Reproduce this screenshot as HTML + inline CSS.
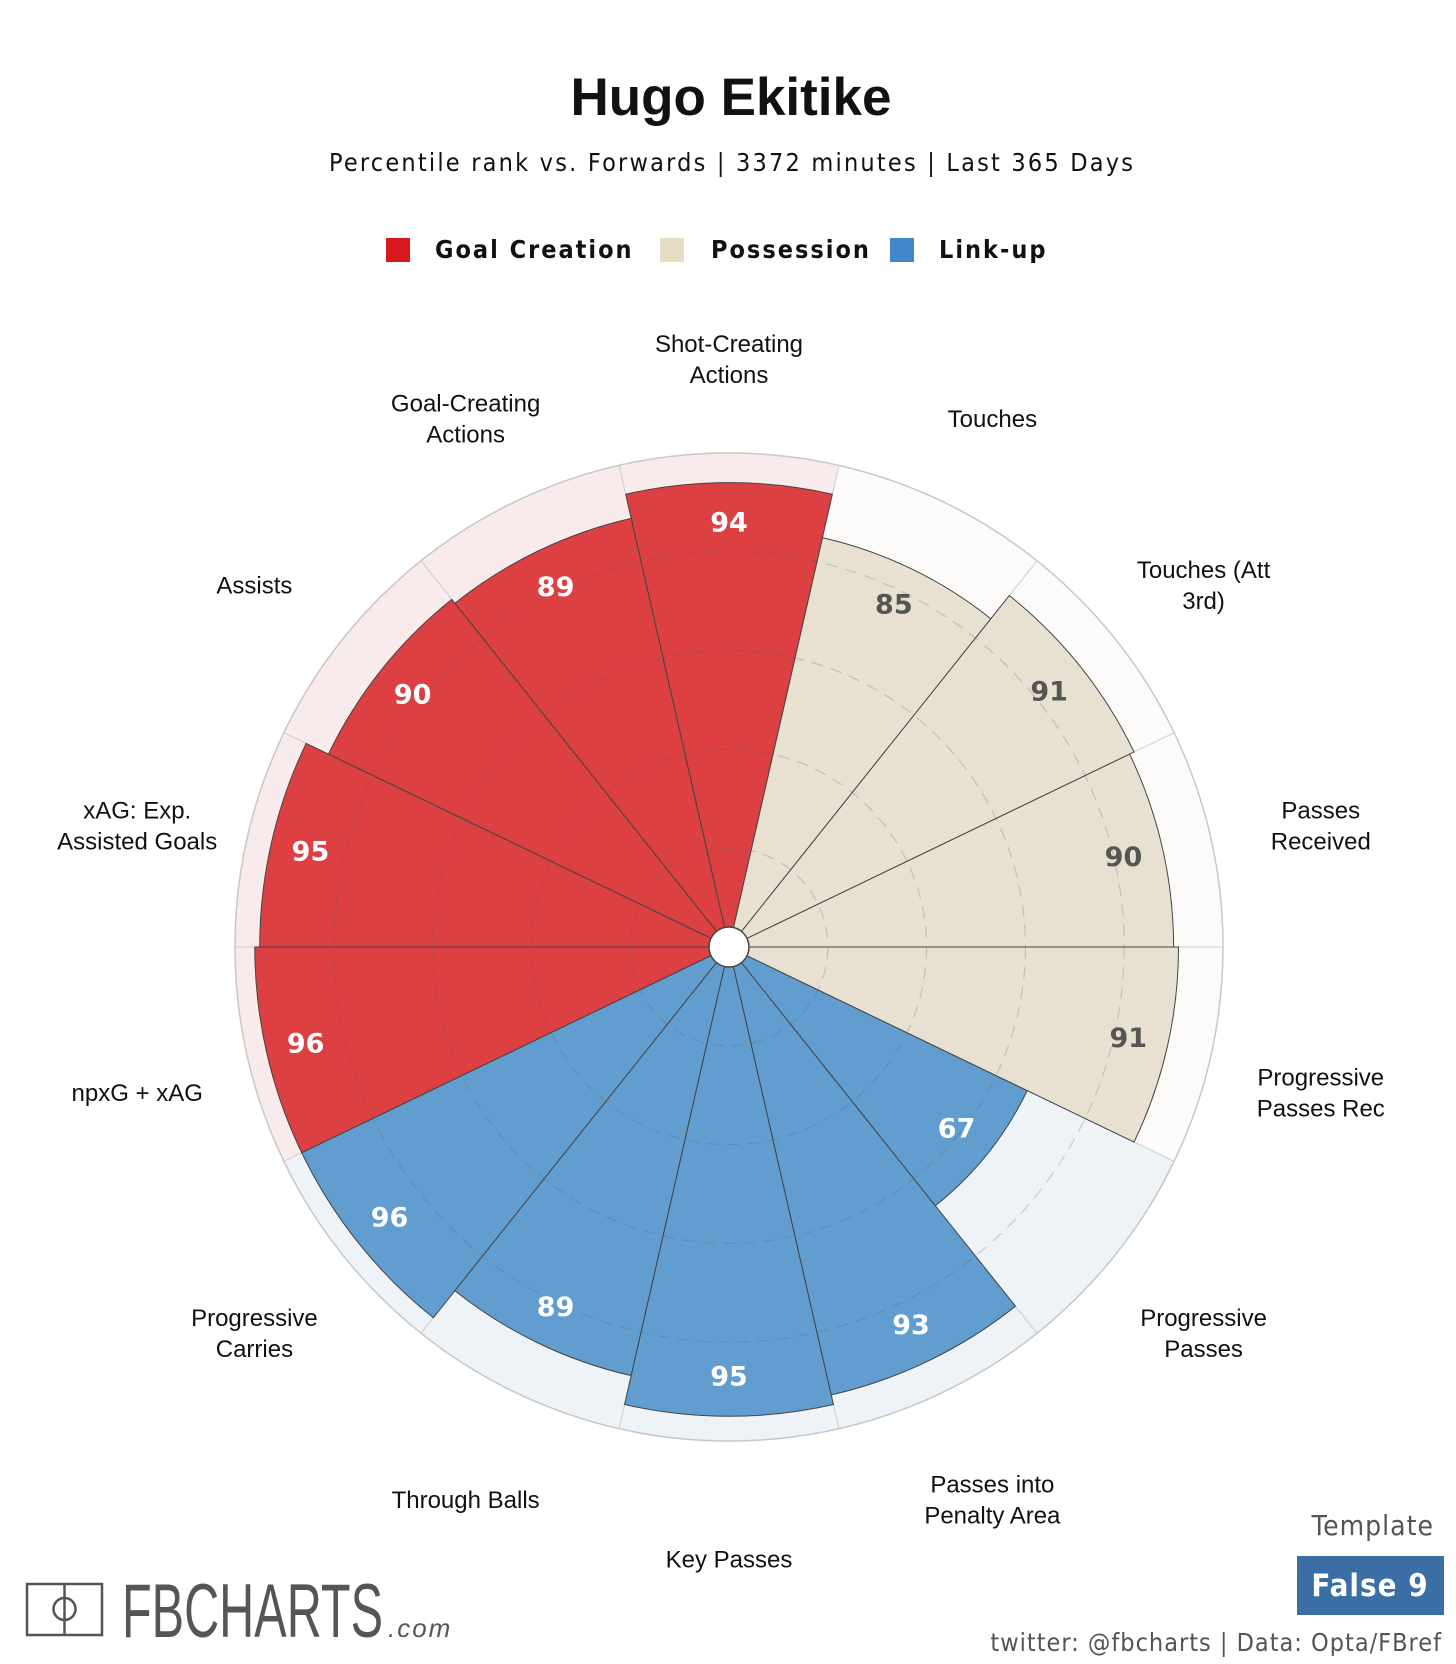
<!DOCTYPE html>
<html><head><meta charset="utf-8"><style>
html,body{margin:0;padding:0;background:#fff;}
svg{display:block;}
text{font-family:"Liberation Sans",sans-serif;}
</style></head><body>
<svg id="chart" width="1456" height="1664" viewBox="0 0 1456 1664" xmlns="http://www.w3.org/2000/svg">
<text x="731" y="115" text-anchor="middle" font-size="53" font-weight="bold" fill="#111">Hugo Ekitike</text>
<text x="731" y="171" text-anchor="middle" font-size="25" fill="#111" style="font-family:'DejaVu Sans Condensed','DejaVu Sans',sans-serif" textLength="804">Percentile rank vs. Forwards | 3372 minutes | Last 365 Days</text>
<g>
<g><rect x="386" y="238" width="24" height="24" fill="#d7191c"/><text x="435" y="258" font-size="25" font-weight="bold" fill="#111" letter-spacing="2" style="font-family:'DejaVu Sans Condensed','DejaVu Sans',sans-serif">Goal Creation</text></g>
<g><rect x="660" y="238" width="24" height="24" fill="#e6dcc6"/><text x="711" y="258" font-size="25" font-weight="bold" fill="#111" letter-spacing="2" style="font-family:'DejaVu Sans Condensed','DejaVu Sans',sans-serif">Possession</text></g>
<g><rect x="890" y="238" width="24" height="24" fill="#3f87c8"/><text x="939" y="258" font-size="25" font-weight="bold" fill="#111" letter-spacing="2" style="font-family:'DejaVu Sans Condensed','DejaVu Sans',sans-serif">Link-up</text></g>
</g>
<g id="bg"></g><g id="bars"></g><g id="rings"></g><g id="vals"></g><g id="labels"></g>
<circle cx="729" cy="947" r="20" fill="#fff" stroke="#444" stroke-width="1.5"/>
<g>
<rect x="27" y="1584" width="75" height="51" fill="none" stroke="#555" stroke-width="2.5"/>
<line x1="64.5" y1="1584" x2="64.5" y2="1635" stroke="#555" stroke-width="2.5"/>
<circle cx="64.5" cy="1609" r="11" fill="none" stroke="#555" stroke-width="2.5"/>
<text x="122" y="1637" font-size="76" fill="#555" textLength="261" lengthAdjust="spacingAndGlyphs">FBCHARTS</text>
<text x="388" y="1637" font-size="26" font-style="italic" fill="#555" letter-spacing="2">.com</text>
</g>
<text x="1434" y="1535" text-anchor="end" font-size="28" fill="#555" letter-spacing="1" style="font-family:'DejaVu Sans Condensed','DejaVu Sans',sans-serif">Template</text>
<rect x="1297" y="1556" width="147" height="59" fill="#3a6ea5"/>
<text x="1370" y="1596" text-anchor="middle" font-size="31" font-weight="bold" fill="#fff" letter-spacing="1" style="font-family:'DejaVu Sans Condensed','DejaVu Sans',sans-serif">False 9</text>
<text x="1442" y="1651" text-anchor="end" font-size="25" fill="#555" letter-spacing="1" style="font-family:'DejaVu Sans Condensed','DejaVu Sans',sans-serif">twitter: @fbcharts | Data: Opta/FBref</text>
</svg>
<script>
const categories=["Passes Received","Touches (Att 3rd)","Touches","Shot-Creating Actions","Goal-Creating Actions","Assists","xAG: Exp. Assisted Goals","npxG + xAG","Progressive Carries","Through Balls","Key Passes","Passes into Penalty Area","Progressive Passes","Progressive Passes Rec"];
const labelLines=[["Passes","Received"],["Touches (Att","3rd)"],["Touches"],["Shot-Creating","Actions"],["Goal-Creating","Actions"],["Assists"],["xAG: Exp.","Assisted Goals"],["npxG + xAG"],["Progressive","Carries"],["Through Balls"],["Key Passes"],["Passes into","Penalty Area"],["Progressive","Passes"],["Progressive","Passes Rec"]];
const values=[90,91,85,94,89,90,95,96,96,89,95,93,67,91];
const groups=["pos","pos","pos","goal","goal","goal","goal","goal","link","link","link","link","link","pos"];
const ringTicks=[20,40,60,80];
const NS="http://www.w3.org/2000/svg";
const cx=729,cy=947,R=494,n=categories.length,step=360/n;
const rScale=v=>v/100*R;
const barCol={goal:"#dc4042",pos:"#e8e1d1",link:"#629dcf"};
const bgCol={goal:"#f9ebeb",pos:"#fcfbfa",link:"#eef3f8"};
const valCol={goal:"#fff",pos:"#555",link:"#fff"};
function pt(r,a){const t=a*Math.PI/180;return [cx+r*Math.cos(t),cy-r*Math.sin(t)];}
function wedge(r,a0,a1){const p0=pt(r,a0),p1=pt(r,a1);return `M${cx},${cy}L${p0[0]},${p0[1]}A${r},${r} 0 0 0 ${p1[0]},${p1[1]}Z`;}
function mk(tag,attrs,parent){const e=document.createElementNS(NS,tag);for(const k in attrs)e.setAttribute(k,attrs[k]);document.getElementById(parent).appendChild(e);return e;}
for(let i=0;i<n;i++){
  const a0=i*step,a1=(i+1)*step,am=(a0+a1)/2,g=groups[i];
  const bg=mk("path",{d:wedge(R,a0,a1),fill:bgCol[g],stroke:"#cfcfcf","stroke-width":1},"bg");
  
  
  const b=mk("path",{d:wedge(rScale(values[i]),a0,a1),fill:barCol[g],stroke:"#444","stroke-width":1},"bars");
  
  
  const vp=pt(rScale(values[i])-40,am);
  const vt=mk("text",{x:vp[0],y:vp[1]+9,"text-anchor":"middle","font-size":27,"font-weight":"bold",fill:valCol[g],style:"font-family:'DejaVu Sans',sans-serif"},"vals");
  vt.textContent=values[i];
  
  
  const lp=pt(607,am),lines=labelLines[i],lh=31;
  const sh=7.5+7*Math.sin(am*Math.PI/180);
  const lt=mk("text",{x:lp[0],y:lp[1]+13+sh-(lines.length-1)*lh/2,"text-anchor":"middle","font-size":24,fill:"#111"},"labels");
  
  
  lines.forEach((s,j)=>{const ts=document.createElementNS(NS,"tspan");ts.setAttribute("x",lp[0]);ts.setAttribute("dy",j?lh:0);ts.textContent=s;lt.appendChild(ts);});
}
ringTicks.forEach(t=>{
  const c=mk("circle",{cx:cx,cy:cy,r:rScale(t),fill:"none",stroke:"rgba(90,90,90,0.25)","stroke-width":1.2,"stroke-dasharray":"12 8"},"rings");
  
  
});
const oc=mk("circle",{cx:cx,cy:cy,r:R,fill:"none",stroke:"#c8c8c8","stroke-width":1.5},"rings");


</script>
</body></html>
